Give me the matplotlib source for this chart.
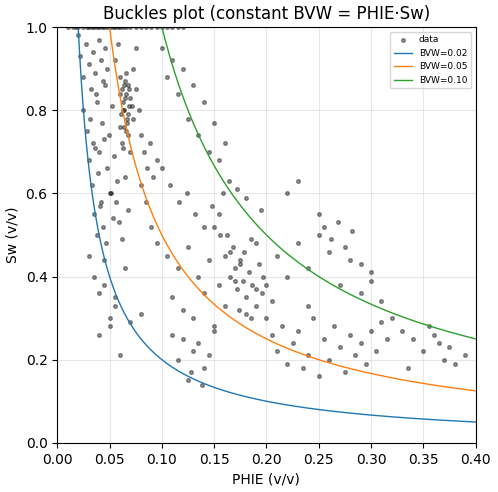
import numpy as np
import matplotlib
matplotlib.use("Agg")
import matplotlib.pyplot as plt

# points (approximate)
phie = [
    0.010, 0.015, 0.018, 0.020, 0.025, 0.028, 0.030, 0.033, 0.035, 0.038, 0.040, 0.043, 0.045, 0.048,
    0.050, 0.053, 0.055, 0.058, 0.060, 0.063, 0.066, 0.070, 0.075, 0.080, 0.085, 0.090, 0.095, 0.100,
    0.105, 0.110, 0.115, 0.120,
    0.020, 0.022, 0.025, 0.027, 0.030, 0.032, 0.034, 0.036, 0.038, 0.040, 0.042, 0.044, 0.046, 0.048,
    0.025, 0.028, 0.031, 0.034, 0.037, 0.040, 0.043, 0.046, 0.049, 0.052, 0.055, 0.058,
    0.030, 0.033, 0.036, 0.039, 0.042, 0.045, 0.048, 0.051, 0.054, 0.057, 0.060, 0.063,
    0.035, 0.038, 0.041, 0.044, 0.047, 0.050, 0.053, 0.056, 0.059, 0.062, 0.065, 0.068,
    0.060, 0.062, 0.063, 0.064, 0.065, 0.066, 0.067, 0.068, 0.069, 0.070, 0.061, 0.064, 0.066, 0.068,
    0.063, 0.065, 0.067, 0.069, 0.071, 0.072, 0.060, 0.062, 0.064, 0.066, 0.068, 0.070,
    0.072, 0.075, 0.078, 0.080, 0.083, 0.086, 0.089, 0.092, 0.095, 0.075, 0.080, 0.085, 0.090,
    0.030, 0.035, 0.040, 0.045, 0.050, 0.055, 0.040, 0.050, 0.060, 0.045, 0.055, 0.065, 0.070, 0.080,
    0.100, 0.105, 0.110, 0.115, 0.120, 0.125, 0.130, 0.135, 0.140, 0.145, 0.150, 0.155, 0.160,
    0.100, 0.108, 0.116, 0.124, 0.132, 0.140, 0.148, 0.156, 0.164, 0.172, 0.180,
    0.095, 0.105, 0.115, 0.125, 0.135, 0.145, 0.155, 0.165, 0.175, 0.185, 0.195,
    0.110, 0.120, 0.130, 0.140, 0.150, 0.160, 0.170, 0.180, 0.190,
    0.120, 0.130, 0.140, 0.150, 0.115, 0.125, 0.135, 0.145, 0.110, 0.128, 0.138,
    0.160, 0.165, 0.170, 0.172, 0.175, 0.178, 0.180, 0.183, 0.186, 0.190, 0.193, 0.196,
    0.162, 0.168, 0.174, 0.179, 0.185, 0.190, 0.197, 0.150, 0.155, 0.158, 0.200, 0.205,
    0.200, 0.205, 0.210, 0.215, 0.220, 0.225, 0.230, 0.235, 0.240, 0.245, 0.250, 0.255,
    0.260, 0.265, 0.270, 0.275, 0.280, 0.285, 0.290, 0.295, 0.300, 0.305, 0.310, 0.315,
    0.210, 0.220, 0.230, 0.240, 0.250, 0.260, 0.270, 0.280, 0.290, 0.300, 0.310,
    0.250, 0.255, 0.262, 0.268, 0.275, 0.282, 0.290, 0.300, 0.220, 0.230, 0.240,
    0.320, 0.330, 0.340, 0.350, 0.355, 0.360, 0.365, 0.370, 0.375, 0.380, 0.390, 0.335,
]
sw = [
    1.00, 1.00, 1.00, 1.00, 1.00, 1.00, 1.00, 1.00, 1.00, 1.00, 1.00, 1.00, 1.00, 1.00,
    1.00, 1.00, 1.00, 1.00, 1.00, 1.00, 1.00, 1.00, 1.00, 1.00, 1.00, 1.00, 1.00, 1.00,
    1.00, 1.00, 1.00, 1.00,
    0.98, 0.93, 0.88, 0.96, 0.91, 0.85, 0.94, 0.89, 0.82, 0.97, 0.92, 0.87, 0.95, 0.90,
    0.80, 0.75, 0.78, 0.72, 0.84, 0.70, 0.77, 0.86, 0.74, 0.81, 0.92, 0.96,
    0.68, 0.62, 0.71, 0.65, 0.58, 0.73, 0.66, 0.60, 0.69, 0.63, 0.76, 0.71,
    0.55, 0.50, 0.57, 0.52, 0.48, 0.60, 0.54, 0.58, 0.53, 0.49, 0.64, 0.56,
    0.88, 0.85, 0.82, 0.80, 0.87, 0.84, 0.78, 0.86, 0.81, 0.83, 0.79, 0.76, 0.89, 0.74,
    0.80, 0.83, 0.77, 0.85, 0.81, 0.78, 0.84, 0.72, 0.86, 0.75, 0.79, 0.70,
    0.90, 0.85, 0.80, 0.74, 0.70, 0.66, 0.72, 0.64, 0.68, 0.95, 0.62, 0.58, 0.52,
    0.45, 0.40, 0.36, 0.44, 0.30, 0.33, 0.26, 0.28, 0.21, 0.38, 0.35, 0.42, 0.29, 0.31,
    0.95, 0.88, 0.92, 0.84, 0.90, 0.78, 0.86, 0.74, 0.82, 0.70, 0.77, 0.68, 0.72,
    0.66, 0.62, 0.58, 0.60, 0.55, 0.52, 0.57, 0.50, 0.63, 0.61, 0.59,
    0.48, 0.45, 0.42, 0.47, 0.40, 0.44, 0.38, 0.46, 0.43, 0.49, 0.56,
    0.35, 0.32, 0.30, 0.36, 0.28, 0.33, 0.39, 0.31, 0.37,
    0.25, 0.22, 0.18, 0.27, 0.20, 0.15, 0.24, 0.21, 0.26, 0.17, 0.14,
    0.45, 0.40, 0.42, 0.37, 0.44, 0.39, 0.35, 0.41, 0.38, 0.33, 0.43, 0.36,
    0.50, 0.47, 0.32, 0.46, 0.30, 0.48, 0.40, 0.52, 0.55, 0.60, 0.38, 0.34,
    0.30, 0.26, 0.22, 0.28, 0.19, 0.24, 0.27, 0.18, 0.21, 0.30, 0.16, 0.25,
    0.20, 0.28, 0.23, 0.17, 0.26, 0.21, 0.24, 0.19, 0.27, 0.22, 0.29, 0.25,
    0.45, 0.40, 0.48, 0.42, 0.50, 0.46, 0.38, 0.44, 0.36, 0.41, 0.34,
    0.55, 0.52, 0.49, 0.53, 0.47, 0.51, 0.43, 0.39, 0.60, 0.63, 0.33,
    0.30, 0.27, 0.25, 0.22, 0.28, 0.26, 0.24, 0.20, 0.23, 0.19, 0.21, 0.18,
]
bvw_values = [0.02, 0.05, 0.10]

fig, ax = plt.subplots(figsize=(4.98, 4.92), dpi=100)
ax.scatter(phie, sw, s=7, c="k", alpha=0.4, label="data", zorder=2)

x = np.linspace(0.001, 0.4, 800)
for bvw in bvw_values:
    ax.plot(x, bvw / x, lw=1, label=f"BVW={bvw:.2f}")

ax.set_xlim(0, 0.4)
ax.set_ylim(0, 1)
ax.grid(True, alpha=0.3)
ax.set_xlabel("PHIE (v/v)")
ax.set_ylabel("Sw (v/v)")
ax.set_title("Buckles plot (constant BVW = PHIE\u00b7Sw)")
ax.legend(loc="upper right", fontsize=6.5)
fig.subplots_adjust(left=0.115, right=0.955, top=0.945, bottom=0.1)
fig.savefig("out.png")
